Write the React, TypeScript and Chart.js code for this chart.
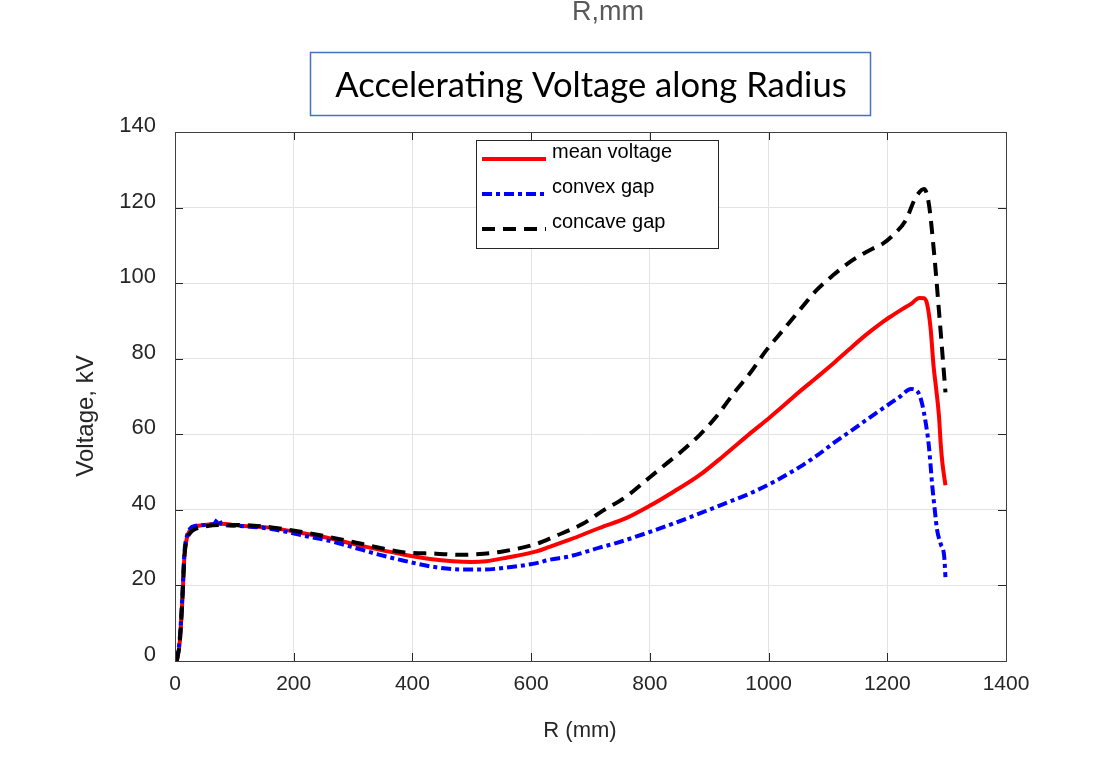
import React, { useEffect, useRef } from 'react';
import { Chart, registerables } from 'chart.js';

Chart.register(...registerables);

// ---- data (R in mm, voltage in kV) ----
const meanR = [3, 8, 12, 16, 20, 25, 35, 50, 76, 110, 160, 216, 260, 300, 340, 384, 430, 468, 500, 524, 560, 609, 631, 665, 715, 760, 799, 840, 883, 925, 968, 1000, 1024, 1050, 1080, 1108, 1136, 1164, 1192, 1210, 1226, 1240, 1254, 1262, 1267, 1273, 1278, 1282, 1287, 1290, 1293, 1298];
const meanV = [0, 5, 15, 28, 32.5, 34.5, 35.6, 36, 36.3, 35.8, 35.3, 33.8, 32.5, 31.0, 29.6, 28.2, 27.0, 26.4, 26.2, 26.4, 27.4, 29.0, 30.2, 32.1, 35.2, 37.8, 41.0, 44.8, 49.1, 54.4, 60.1, 64.2, 67.4, 71.0, 74.9, 78.6, 82.5, 86.3, 89.7, 91.6, 93.2, 94.5, 96.1, 96.0, 94.5, 88, 78, 72.5, 65, 57.5, 52.2, 46.5];

const convexR = [3, 8, 12, 16, 20, 25, 35, 50, 65, 73, 78, 100, 160, 216, 260, 300, 340, 384, 440, 485, 520, 552, 609, 631, 665, 715, 743, 799, 840, 883, 925, 968, 1010, 1052, 1080, 1108, 1136, 1164, 1192, 1220, 1240, 1251, 1258, 1265, 1270, 1276, 1280, 1284, 1290, 1296, 1298];
const convexV = [0, 6, 16, 29, 33, 35, 35.8, 36, 36.2, 37.6, 36.3, 35.8, 35.0, 33.2, 31.8, 30.1, 28.3, 26.6, 24.8, 24.2, 24.2, 24.6, 25.9, 26.8, 27.7, 30.0, 31.2, 34.1, 36.4, 39.0, 41.6, 44.3, 47.5, 51.3, 54.2, 57.5, 60.6, 63.7, 66.8, 69.8, 72.0, 71.3, 68.5, 62.8, 57, 46.0, 40, 34.6, 31, 27.5, 22.2];

const concaveR = [3, 8, 12, 16, 20, 25, 35, 50, 76, 100, 160, 216, 260, 300, 340, 384, 440, 480, 520, 552, 609, 640, 687, 721, 760, 799, 830, 855, 885, 911, 945, 968, 996, 1024, 1052, 1080, 1108, 1136, 1164, 1175, 1192, 1209, 1231, 1248, 1262, 1270, 1279, 1287, 1296, 1298];
const concaveV = [0, 5, 15, 28, 32, 33.8, 35, 35.6, 36, 36, 35.4, 34.1, 32.8, 31.5, 30.1, 28.8, 28.4, 28.1, 28.4, 29.0, 31.0, 33, 36.3, 39.8, 43.5, 48.5, 52.5, 55.7, 60, 64.5, 71.6, 76.0, 82.2, 87.5, 92.8, 98.0, 102.0, 105.5, 108.2, 109.1, 110.4, 112.6, 116.6, 122.7, 124.9, 121.0, 107.7, 92.8, 75.1, 71.1];

const xTicks = [0, 200, 400, 600, 800, 1000, 1200, 1400];
const yTicks = [0, 20, 40, 60, 80, 100, 120, 140];

const seriesNames = ['mean voltage', 'convex gap', 'concave gap'];

const W = 1108;
const H = 763;
const FONT = '"Liberation Sans", Arial, sans-serif';

const COLORS = ['#ff0000', '#0000ff', '#000000'];
const DASHES: number[][] = [[], [10, 4, 4, 4], [13, 8]];
const WIDTHS = [4, 4, 4];

export default function App() {
  const ref = useRef<HTMLCanvasElement>(null);

  useEffect(() => {
    const canvas = ref.current;
    if (!canvas) return;
    const ctx = canvas.getContext('2d');
    if (!ctx) return;

    const toPts = (xs: number[], ys: number[]) => xs.map((x, i) => ({ x, y: ys[i] }));

    const decor = {
      id: 'decor',
      afterDraw(chart: any) {
        const c = chart.ctx as CanvasRenderingContext2D;
        const a = chart.chartArea;
        const xs = chart.scales.x;
        const ys = chart.scales.y;
        c.save();
        // inner tick marks
        c.strokeStyle = '#262626';
        c.lineWidth = 1;
        c.beginPath();
        xTicks.forEach((v) => {
          const px = Math.round(xs.getPixelForValue(v)) + 0.5;
          c.moveTo(px, a.bottom);
          c.lineTo(px, a.bottom - 8);
          c.moveTo(px, a.top);
          c.lineTo(px, a.top + 8);
        });
        yTicks.forEach((v) => {
          const py = Math.round(ys.getPixelForValue(v)) + 0.5;
          c.moveTo(a.left, py);
          c.lineTo(a.left + 8, py);
          c.moveTo(a.right, py);
          c.lineTo(a.right - 8, py);
        });
        c.stroke();
        // axes box
        c.strokeStyle = '#404040';
        c.strokeRect(Math.round(a.left) + 0.5, Math.round(a.top) + 0.5, Math.round(a.right - a.left), Math.round(a.bottom - a.top));

        // top text
        c.fillStyle = '#595959';
        c.font = `27px ${FONT}`;
        c.textAlign = 'center';
        c.textBaseline = 'alphabetic';
        c.fillText('R,mm', 608, 20);

        // title box
        c.fillStyle = '#ffffff';
        c.fillRect(310, 52, 560, 63);
        c.strokeStyle = '#4472c4';
        c.lineWidth = 1.5;
        c.strokeRect(310.5, 52.5, 560, 63);
        c.fillStyle = '#000000';
        const titleText = 'Accelerating Voltage along Radius';
        c.font = `32px Lato, "Open Sans", sans-serif`;
        const tw = c.measureText(titleText).width;
        const fs = 32 * 511 / tw;
        c.font = `${fs.toFixed(1)}px Lato, "Open Sans", sans-serif`;
        c.textBaseline = 'middle';
        c.fillText(titleText, 591, 86);

        // axis titles
        c.fillStyle = '#262626';
        c.font = `22px ${FONT}`;
        c.textBaseline = 'middle';
        c.fillText('R (mm)', 580, 731);
        c.font = `24px ${FONT}`;
        c.save();
        c.translate(86, 416);
        c.rotate(-Math.PI / 2);
        c.fillText('Voltage, kV', 0, 0);
        c.restore();

        // legend
        const lx = 476, ly = 140, lw = 242, lh = 108;
        c.fillStyle = '#ffffff';
        c.fillRect(lx, ly, lw, lh);
        c.strokeStyle = '#262626';
        c.lineWidth = 1;
        c.strokeRect(lx + 0.5, ly + 0.5, lw, lh);
        const rowText = [152, 187, 222];
        const rowLine = [159, 194, 229];
        seriesNames.forEach((name, i) => {
          c.strokeStyle = COLORS[i];
          c.lineWidth = WIDTHS[i];
          c.setLineDash(DASHES[i]);
          c.beginPath();
          c.moveTo(482, rowLine[i]);
          c.lineTo(546, rowLine[i]);
          c.stroke();
          c.setLineDash([]);
          c.fillStyle = '#000000';
          c.font = `20px ${FONT}`;
          c.textAlign = 'left';
          c.textBaseline = 'middle';
          c.fillText(name, 552, rowText[i]);
        });
        c.restore();
      },
    };

    const mk = (i: number, xs: number[], vs: number[], order: number) => ({
      label: seriesNames[i],
      data: toPts(xs, vs),
      borderColor: COLORS[i],
      backgroundColor: COLORS[i],
      borderWidth: WIDTHS[i],
      borderDash: DASHES[i],
      pointRadius: 0,
      fill: false,
      order,
    });

    const chart = new Chart(ctx, {
      type: 'line',
      data: {
        datasets: [
          mk(0, meanR, meanV, 3),
          mk(1, convexR, convexV, 2),
          mk(2, concaveR, concaveV, 1),
        ],
      },
      options: {
        responsive: false,
        animation: false,
        parsing: false as any,
        layout: { padding: { left: 0, top: 132, right: 102, bottom: 0 } },
        plugins: { legend: { display: false }, tooltip: { enabled: false }, title: { display: false } },
        elements: {
          line: { tension: 0, cubicInterpolationMode: 'monotone', borderCapStyle: 'butt', borderJoinStyle: 'round' },
          point: { radius: 0 },
        },
        scales: {
          x: {
            type: 'linear',
            min: 0,
            max: 1400,
            afterBuildTicks: (s: any) => { s.ticks = xTicks.map((v) => ({ value: v })); },
            afterFit: (s: any) => { s.height = 102; s.paddingLeft = 0; s.paddingRight = 0; },
            grid: { color: '#e3e3e3', drawTicks: false, lineWidth: 1 },
            border: { display: false },
            ticks: { color: '#262626', font: { family: FONT, size: 21 }, padding: 11, maxRotation: 0, autoSkip: false, callback: (v: any) => String(v) },
          },
          y: {
            type: 'linear',
            min: 0,
            max: 140,
            afterBuildTicks: (s: any) => { s.ticks = yTicks.map((v) => ({ value: v })); },
            afterFit: (s: any) => { s.width = 175; s.paddingTop = 0; s.paddingBottom = 0; },
            grid: { color: '#e3e3e3', drawTicks: false, lineWidth: 1 },
            border: { display: false },
            ticks: { color: '#262626', font: { family: FONT, size: 22 }, padding: 19, labelOffset: -6, autoSkip: false, callback: (v: any) => String(v) },
          },
        },
      } as any,
      plugins: [decor],
    });

    return () => chart.destroy();
  }, []);

  return (
    <div style={{ position: 'absolute', left: 0, top: 0, width: W, height: H, background: '#ffffff' }}>
      <canvas ref={ref} width={W} height={H} style={{ display: 'block', width: W, height: H }} />
    </div>
  );
}
